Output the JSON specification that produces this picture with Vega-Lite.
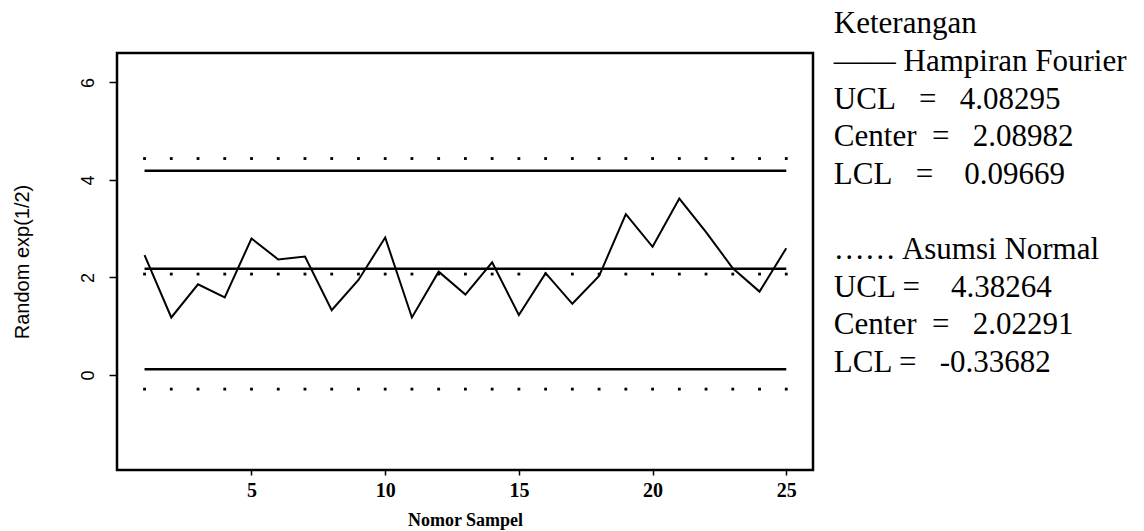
{
  "$schema": "https://vega.github.io/schema/vega-lite/v6.json",
  "autosize": {"type": "none"},
  "padding": {"left": 117, "top": 53, "right": 331, "bottom": 61},
  "width": 696,
  "height": 417,
  "background": "white",
  "datasets": {
    "samples": [
      {"n": 1, "value": 2.46}, {"n": 2, "value": 1.18}, {"n": 3, "value": 1.86},
      {"n": 4, "value": 1.59}, {"n": 5, "value": 2.80}, {"n": 6, "value": 2.37},
      {"n": 7, "value": 2.43}, {"n": 8, "value": 1.33}, {"n": 9, "value": 1.95},
      {"n": 10, "value": 2.82}, {"n": 11, "value": 1.18}, {"n": 12, "value": 2.12},
      {"n": 13, "value": 1.65}, {"n": 14, "value": 2.31}, {"n": 15, "value": 1.23},
      {"n": 16, "value": 2.09}, {"n": 17, "value": 1.46}, {"n": 18, "value": 2.03},
      {"n": 19, "value": 3.30}, {"n": 20, "value": 2.63}, {"n": 21, "value": 3.62},
      {"n": 22, "value": 2.93}, {"n": 23, "value": 2.19}, {"n": 24, "value": 1.71},
      {"n": 25, "value": 2.60}
    ],
    "fourier": [
      {"limit": "UCL", "value": 4.19},
      {"limit": "Center", "value": 2.18},
      {"limit": "LCL", "value": 0.12}
    ],
    "legend": [
      {"line": 1, "label": "Keterangan"},
      {"line": 2, "label": "—— Hampiran Fourier"},
      {"line": 3, "label": "UCL\u00a0\u00a0\u00a0=\u00a0\u00a0\u00a04.08295"},
      {"line": 4, "label": "Center\u00a0\u00a0=\u00a0\u00a0\u00a02.08982"},
      {"line": 5, "label": "LCL\u00a0\u00a0\u00a0=\u00a0\u00a0\u00a0\u00a00.09669"},
      {"line": 7, "label": "…… Asumsi Normal"},
      {"line": 8, "label": "UCL =\u00a0\u00a0\u00a0\u00a04.38264"},
      {"line": 9, "label": "Center\u00a0\u00a0=\u00a0\u00a0\u00a02.02291"},
      {"line": 10, "label": "LCL =\u00a0\u00a0\u00a0-0.33682"}
    ]
  },
  "layer": [
    {
      "layer": [
        {
          "data": {"name": "fourier"},
          "mark": {"type": "rule", "color": "black", "strokeWidth": 2.5},
          "encoding": {
            "x": {"datum": 1, "type": "quantitative",
              "scale": {"domain": [-0.03, 26.0], "nice": false, "zero": false},
              "axis": {"values": [5, 10, 15, 20, 25], "title": "Nomor Sampel"}},
            "x2": {"datum": 25},
            "y": {"field": "value", "type": "quantitative",
              "scale": {"domain": [-1.949, 6.605], "nice": false, "zero": false},
              "axis": {"values": [0, 2, 4, 6], "title": "Random exp(1/2)"}}
          }
        },
        {
          "data": {"name": "samples"},
          "mark": {"type": "line", "color": "black", "strokeWidth": 2},
          "encoding": {
            "x": {"field": "n", "type": "quantitative"},
            "y": {"field": "value", "type": "quantitative"}
          }
        },
        {
          "data": {"name": "samples"},
          "mark": {"type": "point", "shape": "square", "filled": true, "color": "black", "size": 8, "opacity": 1},
          "encoding": {
            "x": {"field": "n", "type": "quantitative"},
            "y": {"datum": 4.44, "type": "quantitative"}
          }
        },
        {
          "data": {"name": "samples"},
          "mark": {"type": "point", "shape": "square", "filled": true, "color": "black", "size": 8, "opacity": 1},
          "encoding": {
            "x": {"field": "n", "type": "quantitative"},
            "y": {"datum": 2.07, "type": "quantitative"}
          }
        },
        {
          "data": {"name": "samples"},
          "mark": {"type": "point", "shape": "square", "filled": true, "color": "black", "size": 8, "opacity": 1},
          "encoding": {
            "x": {"field": "n", "type": "quantitative"},
            "y": {"datum": -0.29, "type": "quantitative"}
          }
        }
      ]
    },
    {
      "data": {"name": "legend"},
      "mark": {"type": "text", "align": "left", "baseline": "alphabetic", "font": "Liberation Serif", "fontSize": 31, "color": "black"},
      "encoding": {
        "x": {"datum": 26.78, "type": "quantitative"},
        "y": {"field": "line", "type": "quantitative",
          "scale": {"domain": [1, 10], "range": [-19.7, 318.7], "nice": false, "zero": false},
          "axis": null},
        "text": {"field": "label"}
      }
    }
  ],
  "resolve": {"scale": {"y": "independent"}},
  "config": {
    "view": {"stroke": "black", "strokeWidth": 2.5},
    "text": {"font": "Liberation Serif"},
    "axis": {"domain": false, "grid": false, "tickColor": "black", "tickWidth": 1.5, "labelColor": "black", "titleColor": "black"},
    "axisX": {
      "tickSize": 5,
      "labelFont": "Liberation Serif", "labelFontSize": 20, "labelFontWeight": "bold", "labelPadding": 5,
      "titleFont": "Liberation Serif", "titleFontSize": 18, "titleFontWeight": "bold", "titlePadding": 11
    },
    "axisY": {
      "tickSize": 8,
      "labelAngle": -90, "labelAlign": "center", "labelBaseline": "alphabetic",
      "labelFont": "Liberation Sans", "labelFontSize": 18, "labelPadding": 16,
      "titleFont": "Liberation Sans", "titleFontSize": 20, "titleFontWeight": "normal", "titlePadding": 47
    }
  }
}
